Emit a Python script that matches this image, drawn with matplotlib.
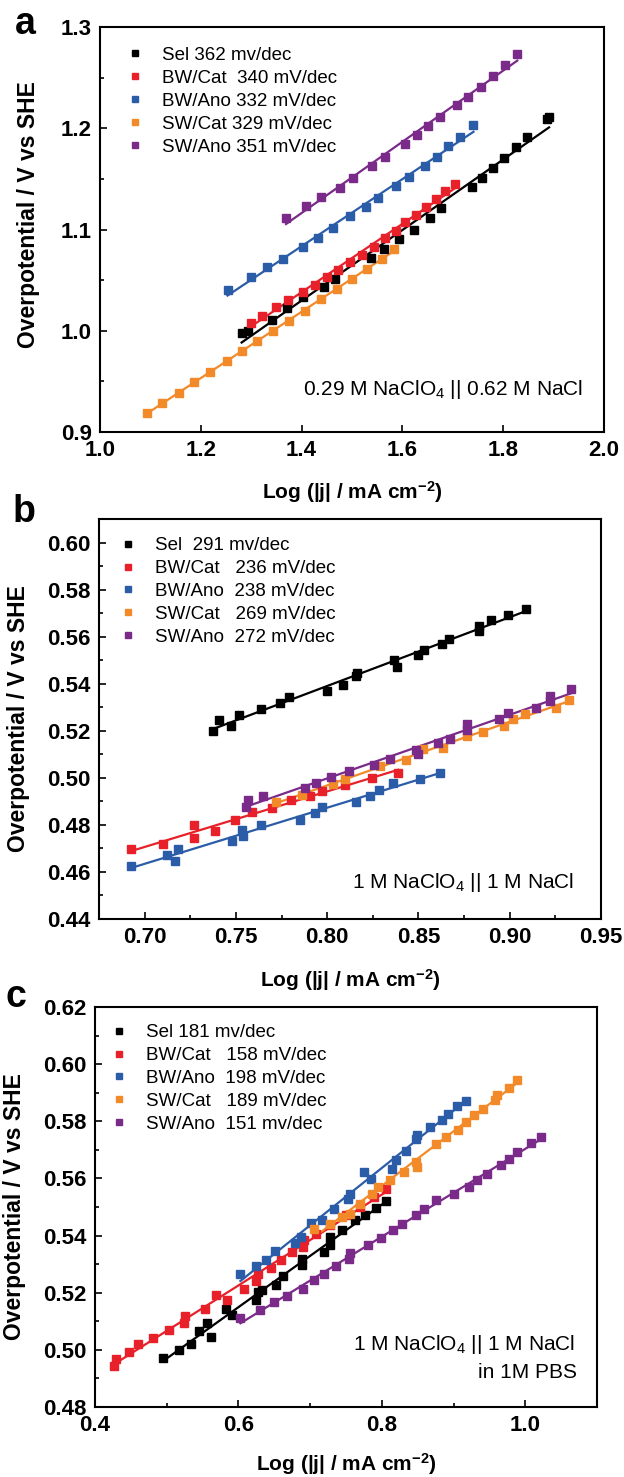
import numpy as np
import matplotlib.pyplot as plt

plt.rcParams['font.family'] = ['Liberation Sans', 'DejaVu Sans']
plt.rcParams['mathtext.default'] = 'regular'

c_sel = '#000000'
c_bwcat = '#e8202a'
c_bwano = '#2b5ca8'
c_swcat = '#f28a2a'
c_swano = '#7a2a88'
colors = [c_sel, c_bwcat, c_bwano, c_swcat, c_swano]

# ---- panel a : 0.29 M NaClO4 || 0.62 M NaCl
a_sel_x = [1.281, 1.294, 1.342, 1.371, 1.402, 1.444, 1.466, 1.537, 1.563, 1.594, 1.624,
           1.654, 1.677, 1.738, 1.757, 1.780, 1.802, 1.826, 1.847, 1.887, 1.891]
a_sel_y = [0.998, 1.000, 1.011, 1.022, 1.033, 1.043, 1.051, 1.072, 1.081, 1.091, 1.100,
           1.111, 1.121, 1.142, 1.151, 1.161, 1.171, 1.181, 1.191, 1.209, 1.211]
a_bwcat_x = [1.300, 1.322, 1.349, 1.373, 1.402, 1.426, 1.450, 1.472, 1.496, 1.519,
             1.543, 1.565, 1.587, 1.606, 1.626, 1.646, 1.667, 1.685, 1.704]
a_bwcat_y = [1.008, 1.015, 1.023, 1.030, 1.038, 1.045, 1.053, 1.060, 1.068, 1.075,
             1.083, 1.092, 1.099, 1.107, 1.114, 1.122, 1.130, 1.138, 1.145]
a_bwano_x = [1.253, 1.300, 1.332, 1.364, 1.402, 1.432, 1.462, 1.497, 1.527, 1.551,
             1.587, 1.613, 1.644, 1.668, 1.691, 1.715, 1.741]
a_bwano_y = [1.040, 1.053, 1.063, 1.071, 1.083, 1.092, 1.101, 1.113, 1.122, 1.131,
             1.143, 1.152, 1.163, 1.172, 1.182, 1.191, 1.203]
a_swcat_x = [1.094, 1.124, 1.156, 1.187, 1.219, 1.251, 1.281, 1.312, 1.344, 1.375,
             1.407, 1.439, 1.470, 1.500, 1.529, 1.559, 1.584]
a_swcat_y = [0.919, 0.929, 0.939, 0.949, 0.959, 0.970, 0.980, 0.990, 1.000, 1.010,
             1.020, 1.031, 1.041, 1.051, 1.061, 1.071, 1.081]
a_swano_x = [1.369, 1.409, 1.439, 1.476, 1.502, 1.539, 1.565, 1.605, 1.628, 1.650,
             1.674, 1.709, 1.731, 1.755, 1.780, 1.804, 1.828]
a_swano_y = [1.111, 1.123, 1.132, 1.141, 1.151, 1.163, 1.172, 1.184, 1.193, 1.202,
             1.211, 1.223, 1.231, 1.241, 1.252, 1.262, 1.273]
a_labels = ['Sel 362 mv/dec', 'BW/Cat  340 mV/dec', 'BW/Ano 332 mV/dec',
            'SW/Cat 329 mV/dec', 'SW/Ano 351 mV/dec']

# ---- panel b : 1 M NaClO4 || 1 M NaCl
b_sel_x = [0.7373, 0.7407, 0.7473, 0.7518, 0.7638, 0.7740, 0.7793, 0.8000, 0.8089, 0.8156,
           0.8162, 0.8367, 0.8382, 0.8500, 0.8533, 0.8629, 0.8667, 0.8829, 0.8833, 0.8900,
           0.8989, 0.9089]
b_sel_y = [0.5197, 0.5244, 0.5221, 0.5268, 0.5292, 0.5320, 0.5342, 0.5370, 0.5395, 0.5431,
           0.5445, 0.5499, 0.5470, 0.5523, 0.5544, 0.5568, 0.5589, 0.5622, 0.5646, 0.5672,
           0.5693, 0.5717]
b_bwcat_x = [0.6927, 0.7100, 0.7273, 0.7273, 0.7384, 0.7496, 0.7589, 0.7700, 0.7800,
             0.7904, 0.7971, 0.8096, 0.8244, 0.8389]
b_bwcat_y = [0.4699, 0.4720, 0.4801, 0.4744, 0.4772, 0.4822, 0.4853, 0.4872, 0.4907,
             0.4921, 0.4945, 0.4971, 0.4999, 0.5020]
b_bwano_x = [0.6927, 0.7122, 0.7167, 0.7184, 0.7478, 0.7533, 0.7540, 0.7638, 0.7851,
             0.7933, 0.7971, 0.8156, 0.8233, 0.8282, 0.8362, 0.8511, 0.8616]
b_bwano_y = [0.4627, 0.4673, 0.4645, 0.4697, 0.4730, 0.4779, 0.4751, 0.4801, 0.4822,
             0.4850, 0.4874, 0.4897, 0.4921, 0.4947, 0.4978, 0.4995, 0.5020]
b_swcat_x = [0.7722, 0.7860, 0.8033, 0.8100, 0.8289, 0.8433, 0.8527, 0.8633, 0.8767,
             0.8851, 0.8967, 0.9016, 0.9082, 0.9251, 0.9327]
b_swcat_y = [0.4896, 0.4928, 0.4975, 0.4995, 0.5051, 0.5077, 0.5122, 0.5125, 0.5176,
             0.5196, 0.5221, 0.5250, 0.5272, 0.5298, 0.5329]
b_swano_x = [0.7556, 0.7567, 0.7651, 0.7878, 0.7940, 0.8022, 0.8122, 0.8256, 0.8344,
             0.8489, 0.8496, 0.8607, 0.8673, 0.8767, 0.8767, 0.8940, 0.8989, 0.9144,
             0.9222, 0.9222, 0.9333]
b_swano_y = [0.4876, 0.4907, 0.4924, 0.4956, 0.4978, 0.5003, 0.5027, 0.5056, 0.5080,
             0.5119, 0.5102, 0.5150, 0.5165, 0.5204, 0.5230, 0.5250, 0.5275, 0.5296,
             0.5325, 0.5349, 0.5377]
b_labels = ['Sel  291 mv/dec', 'BW/Cat   236 mV/dec', 'BW/Ano  238 mV/dec',
            'SW/Cat   269 mV/dec', 'SW/Ano  272 mV/dec']

# ---- panel c : 1 M NaClO4 || 1 M NaCl in 1M PBS
c_sel_x = [0.4944, 0.5167, 0.5333, 0.5444, 0.5567, 0.5611, 0.5822, 0.5906, 0.6250, 0.6278,
           0.6333, 0.6528, 0.6622, 0.6889, 0.6889, 0.7194, 0.7278, 0.7278, 0.7444, 0.7622,
           0.7767, 0.7917, 0.8056]
c_sel_y = [0.4973, 0.4998, 0.5022, 0.5066, 0.5094, 0.5045, 0.5144, 0.5121, 0.5176, 0.5203,
           0.5210, 0.5226, 0.5257, 0.5296, 0.5319, 0.5343, 0.5366, 0.5395, 0.5418, 0.5453,
           0.5471, 0.5498, 0.5521]
c_bwcat_x = [0.4267, 0.4289, 0.4472, 0.4600, 0.4806, 0.5028, 0.5239, 0.5261, 0.5528,
             0.5694, 0.5844, 0.6083, 0.6250, 0.6278, 0.6461, 0.6600, 0.6750, 0.6906,
             0.6917, 0.7083, 0.7278, 0.7500, 0.7694, 0.7889, 0.8056]
c_bwcat_y = [0.4942, 0.4969, 0.4993, 0.5022, 0.5043, 0.5071, 0.5094, 0.5117, 0.5144,
             0.5191, 0.5173, 0.5214, 0.5240, 0.5264, 0.5288, 0.5313, 0.5343, 0.5360,
             0.5383, 0.5407, 0.5436, 0.5471, 0.5500, 0.5535, 0.5564]
c_bwano_x = [0.6028, 0.6250, 0.6378, 0.6511, 0.6789, 0.6878, 0.7011, 0.7167, 0.7333,
             0.7528, 0.7556, 0.7750, 0.7844, 0.8139, 0.8194, 0.8333, 0.8472, 0.8489,
             0.8667, 0.8833, 0.8917, 0.9044, 0.9167]
c_bwano_y = [0.5267, 0.5292, 0.5313, 0.5346, 0.5374, 0.5395, 0.5444, 0.5453, 0.5494,
             0.5529, 0.5547, 0.5623, 0.5599, 0.5634, 0.5663, 0.5696, 0.5739, 0.5751,
             0.5780, 0.5806, 0.5827, 0.5852, 0.5871]
c_swcat_x = [0.7056, 0.7278, 0.7444, 0.7556, 0.7694, 0.7861, 0.7944, 0.8111, 0.8306,
             0.8472, 0.8489, 0.8750, 0.8889, 0.9067, 0.9167, 0.9278, 0.9417, 0.9583,
             0.9600, 0.9767, 0.9878]
c_swcat_y = [0.5424, 0.5442, 0.5465, 0.5477, 0.5512, 0.5547, 0.5570, 0.5593, 0.5623,
             0.5658, 0.5640, 0.5722, 0.5745, 0.5768, 0.5798, 0.5821, 0.5844, 0.5873,
             0.5891, 0.5918, 0.5943]
c_swano_x = [0.6028, 0.6306, 0.6500, 0.6678, 0.6900, 0.7056, 0.7194, 0.7361, 0.7544,
             0.7556, 0.7806, 0.7989, 0.8156, 0.8278, 0.8472, 0.8583, 0.8750, 0.9000,
             0.9211, 0.9322, 0.9472, 0.9656, 0.9778, 0.9889, 1.0083, 1.0222]
c_swano_y = [0.5113, 0.5138, 0.5168, 0.5187, 0.5214, 0.5246, 0.5267, 0.5292, 0.5319,
             0.5339, 0.5366, 0.5393, 0.5418, 0.5442, 0.5471, 0.5494, 0.5523, 0.5547,
             0.5570, 0.5593, 0.5614, 0.5646, 0.5669, 0.5693, 0.5724, 0.5745]
c_labels = ['Sel 181 mv/dec', 'BW/Cat   158 mV/dec', 'BW/Ano  198 mV/dec',
            'SW/Cat   189 mV/dec', 'SW/Ano  151 mv/dec']

W, H = 624, 1477
fig = plt.figure(figsize=(W / 100, H / 100), dpi=100)


def px_axes(left, top, right, bottom):
    return fig.add_axes([left / W, 1 - bottom / H, (right - left) / W, (bottom - top) / H])


def draw_panel(ax, series, labels):
    for (x, y), col, lab in zip(series, colors, labels):
        x = np.array(x)
        y = np.array(y)
        k, b = np.polyfit(x, y, 1)
        xx = np.array([x.min(), x.max()])
        ax.plot(xx, k * xx + b, '-', color=col, lw=1.6, zorder=2)
        ax.plot(x, y, 's', color=col, ms=6, mec=col, label=lab, zorder=3)
    for s in ax.spines.values():
        s.set_linewidth(1.5)
    ax.tick_params(which='both', direction='in', width=1.2, labelsize=16, pad=6,
                   top=False, right=False)
    ax.tick_params(which='major', length=5)
    ax.tick_params(which='minor', length=3)
    ax.set_xlabel('Log (|j| / mA cm$^{-2}$)', fontsize=15, fontweight='bold')
    ax.set_ylabel('Overpotential / V vs SHE', fontsize=16.5, fontweight='bold')


def add_legend(ax, x0, y0):
    ax.legend(loc='upper left', bbox_to_anchor=(x0, y0), frameon=False, borderpad=0,
              borderaxespad=0, handlelength=1.0, handletextpad=0.94, labelspacing=0.31,
              markerscale=0.8, prop={'size': 13.5})


# a
ax1 = px_axes(100, 27, 604, 432)
draw_panel(ax1, [(a_sel_x, a_sel_y), (a_bwcat_x, a_bwcat_y), (a_bwano_x, a_bwano_y),
                 (a_swcat_x, a_swcat_y), (a_swano_x, a_swano_y)], a_labels)
ax1.set_xlim(1.0, 2.0)
ax1.set_ylim(0.9, 1.3)
ax1.set_xticks(np.arange(1.0, 2.01, 0.2))
ax1.set_yticks(np.arange(0.9, 1.31, 0.1))
ax1.set_yticks(np.arange(0.95, 1.3, 0.1), minor=True)
ax1.xaxis.set_major_formatter('{x:.1f}')
ax1.yaxis.set_major_formatter('{x:.1f}')
ax1.xaxis.set_label_coords(0.5, -0.116)
ax1.yaxis.set_label_coords(-0.119, 0.536)
add_legend(ax1, 0.051, 0.951)
ax1.text(0.958, 0.104, '0.29 M NaClO$_4$ || 0.62 M NaCl', transform=ax1.transAxes,
         ha='right', va='center', fontsize=15)
fig.text(25 / W, 1 - 24 / H, 'a', fontsize=27, fontweight='bold', ha='center', va='center')

# b
ax2 = px_axes(99, 519, 601, 919)
draw_panel(ax2, [(b_sel_x, b_sel_y), (b_bwcat_x, b_bwcat_y), (b_bwano_x, b_bwano_y),
                 (b_swcat_x, b_swcat_y), (b_swano_x, b_swano_y)], b_labels)
ax2.set_xlim(0.677, 0.95)
ax2.set_ylim(0.44, 0.61)
ax2.set_xticks(np.arange(0.70, 0.951, 0.05))
ax2.set_xticks(np.arange(0.675, 0.95, 0.025), minor=True)
ax2.set_yticks(np.arange(0.44, 0.601, 0.02))
ax2.set_yticks(np.arange(0.45, 0.61, 0.02), minor=True)
ax2.xaxis.set_major_formatter('{x:.2f}')
ax2.yaxis.set_major_formatter('{x:.2f}')
ax2.xaxis.set_label_coords(0.5, -0.12)
ax2.yaxis.set_label_coords(-0.137, 0.5)
add_legend(ax2, 0.039, 0.955)
ax2.text(0.946, 0.0925, '1 M NaClO$_4$ || 1 M NaCl', transform=ax2.transAxes,
         ha='right', va='center', fontsize=15)
fig.text(24 / W, 1 - 512 / H, 'b', fontsize=27, fontweight='bold', ha='center', va='center')

# c
ax3 = px_axes(95, 1007, 597, 1407)
draw_panel(ax3, [(c_sel_x, c_sel_y), (c_bwcat_x, c_bwcat_y), (c_bwano_x, c_bwano_y),
                 (c_swcat_x, c_swcat_y), (c_swano_x, c_swano_y)], c_labels)
ax3.set_xlim(0.4, 1.1)
ax3.set_ylim(0.48, 0.62)
ax3.set_xticks([0.4, 0.6, 0.8, 1.0])
ax3.set_xticks([0.5, 0.7, 0.9], minor=True)
ax3.set_yticks(np.arange(0.48, 0.621, 0.02))
ax3.set_yticks(np.arange(0.49, 0.62, 0.02), minor=True)
ax3.xaxis.set_major_formatter('{x:.1f}')
ax3.yaxis.set_major_formatter('{x:.2f}')
ax3.xaxis.set_label_coords(0.5, -0.11)
ax3.yaxis.set_label_coords(-0.137, 0.5)
add_legend(ax3, 0.030, 0.9575)
ax3.text(0.956, 0.155, '1 M NaClO$_4$ || 1 M NaCl', transform=ax3.transAxes,
         ha='right', va='center', fontsize=15)
ax3.text(0.96, 0.085, 'in 1M PBS', transform=ax3.transAxes,
         ha='right', va='center', fontsize=15)
fig.text(16 / W, 1 - 997 / H, 'c', fontsize=27, fontweight='bold', ha='center', va='center')

for ax in (ax1, ax2, ax3):
    plt.setp(ax.get_xticklabels() + ax.get_yticklabels(), fontweight='bold')

fig.savefig('out.png', dpi=100)
